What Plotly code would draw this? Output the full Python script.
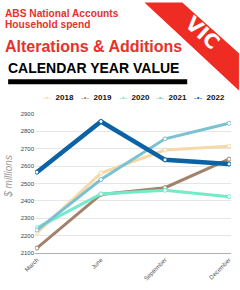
import plotly.graph_objects as go

quarters = ["March", "June", "September", "December"]
years = ["2018", "2019", "2020", "2021", "2022"]
v2018 = [2216, 2560, 2693, 2715]
v2019 = [2128, 2437, 2476, 2640]
v2020 = [2245, 2440, 2461, 2424]
v2021 = [2232, 2523, 2757, 2847]
v2022 = [2565, 2857, 2636, 2612]
series = [v2018, v2019, v2020, v2021, v2022]
colors = ["#f6d9a6", "#a3826b", "#72ebc9", "#79c1d3", "#0b62a4"]
widths = [3, 3, 3, 3, 4.5]
yticks = [2100, 2200, 2300, 2400, 2500, 2600, 2700, 2800, 2900]

W, H = 240, 290
L, R, T, B = 35, 232, 114, 256

def px(x):
    return (x - L) / (R - L)

def py(y):
    return (B - y) / (B - T)

fig = go.Figure()
for name, vals, c, w in zip(years, series, colors, widths):
    fig.add_trace(go.Scatter(
        x=quarters, y=vals, name=name, mode="lines+markers",
        line=dict(color=c, width=w),
        marker=dict(size=4, color="white", line=dict(color=c, width=1)),
        showlegend=False))

tf = "Liberation Sans, Arial, sans-serif"
red = "#e5322b"
shapes = [
    dict(type="path", xref="paper", yref="paper",
         path=f"M {px(145):.4f},{py(0):.4f} L {px(183):.4f},{py(0):.4f} L {px(240):.4f},{py(52):.4f} L {px(240):.4f},{py(90):.4f} Z",
         fillcolor="#ee2c24", line=dict(width=0), layer="below"),
    dict(type="line", xref="paper", yref="paper", x0=px(8), x1=px(188), y0=py(81), y1=py(81),
         line=dict(color="black", width=5)),
]

ann = []
ann.append(dict(x=px(204), y=py(31), xref="paper", yref="paper", showarrow=False,
                xanchor="center", yanchor="middle",
                text="<b>VIC</b>", textangle=42,
                font=dict(family="DejaVu Sans, Liberation Sans, sans-serif", size=20, color="white")))
titles = [
    (3, 11.5, "<b>ABS National Accounts</b>", 10.2, red),
    (3, 23, "<b>Household spend</b>", 10.2, red),
    (3, 45.5, "<b>Alterations &amp; Additions</b>", 16, red),
    (6, 67, "<b>CALENDAR YEAR VALUE</b>", 14, "black"),
]
for x, y, t, s, c in titles:
    ann.append(dict(x=px(x), y=py(y), text=t, font=dict(family=tf, size=s, color=c),
                    xref="paper", yref="paper", xanchor="left", yanchor="middle", showarrow=False))

# legend built as text
leg_x = [45, 83, 121, 159, 197]
for name, c, lx in zip(years, colors, leg_x):
    ann.append(dict(x=px(lx - 4), y=py(97), xref="paper", yref="paper", xanchor="left", yanchor="middle",
                    showarrow=False,
                    text=f"<span style='color:{c}'>-•-</span>  <b>{name}</b>",
                    font=dict(family=tf, size=8, color="#111")))

ann.append(dict(x=px(9), y=py(178), xref="paper", yref="paper", showarrow=False, textangle=-90,
                xanchor="center", yanchor="middle",
                text="<i>$ millions</i>",
                font=dict(family=tf, size=10, color="#9a9a9a")))

fig.update_layout(
    width=W, height=H, margin=dict(l=L, r=W - R, t=T, b=H - B),
    paper_bgcolor="white", plot_bgcolor="white",
    annotations=ann, shapes=shapes, showlegend=False,
    xaxis=dict(range=[-0.03, 3.03], tickangle=-45, showgrid=False, showline=True,
               linecolor="#b0b0b0", linewidth=1, ticks="",
               tickfont=dict(size=6, color="#555", family=tf)),
    yaxis=dict(range=[2100, 2900], tickvals=yticks, showgrid=True, gridcolor="#e6e6e6",
               zeroline=False, ticks="",
               tickfont=dict(size=6, color="#444", family=tf)),
)
fig.write_html("out.html")
